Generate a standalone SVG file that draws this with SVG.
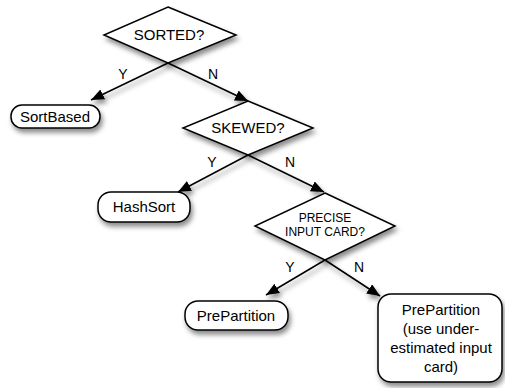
<svg xmlns="http://www.w3.org/2000/svg" width="505" height="388" viewBox="0 0 505 388">
<defs>
<filter id="sh" x="-20%" y="-20%" width="150%" height="160%">
<feDropShadow dx="2" dy="4" stdDeviation="2.5" flood-color="#000" flood-opacity="0.45"/>
</filter>
<marker id="ah" markerUnits="userSpaceOnUse" markerWidth="14" markerHeight="12" refX="13" refY="5.5" orient="auto">
<path d="M0,0 L13,5.5 L0,11 z" fill="#000"/>
</marker>
<style>
.shape{fill:#fff;stroke:#000;stroke-width:1.5;filter:url(#sh)}
.t{font-family:"Liberation Sans",Arial,sans-serif;font-size:15px;fill:#000;text-anchor:middle}
.s{font-size:12px}
.lbl{font-family:"Liberation Sans",Arial,sans-serif;font-size:14px;fill:#000;text-anchor:middle}
.c{stroke:#000;stroke-width:1.5;fill:none;marker-end:url(#ah)}
</style>
</defs>
<rect width="505" height="388" fill="#fff"/>
<g id="connectors" filter="url(#sh)">
<line class="c" x1="168" y1="63" x2="91" y2="100"/>
<line class="c" x1="168" y1="63" x2="248" y2="101"/>
<line class="c" x1="248" y1="155" x2="178" y2="192"/>
<line class="c" x1="248" y1="155" x2="324" y2="192"/>
<line class="c" x1="325" y1="260" x2="266" y2="295"/>
<line class="c" x1="325" y1="260" x2="380" y2="296"/>
</g>
<g id="sorted">
<polygon class="shape" points="168,7 236,35 168,63 104,35"/>
<text class="t" x="169" y="40">SORTED?</text>
</g>
<g id="sortbased">
<rect class="shape" x="11" y="105" width="89" height="23" rx="11"/>
<text class="t" x="55" y="122">SortBased</text>
</g>
<g id="skewed">
<polygon class="shape" points="248,101 313,128 248,155 183,128"/>
<text class="t" x="248" y="133">SKEWED?</text>
</g>
<g id="hashsort">
<rect class="shape" x="98" y="192" width="92" height="30" rx="13"/>
<text class="t" x="144" y="212">HashSort</text>
</g>
<g id="precise">
<polygon class="shape" points="325,193 395,226 325,260 255,226"/>
<text class="t s" x="325" y="222">PRECISE</text>
<text class="t s" x="325" y="236">INPUT CARD?</text>
</g>
<g id="prepartition">
<rect class="shape" x="185" y="301" width="103" height="29" rx="13"/>
<text class="t" x="236" y="321">PrePartition</text>
</g>
<g id="prepartition2">
<rect class="shape" x="378" y="294" width="124" height="88" rx="13"/>
<text class="t" x="441" y="315">PrePartition</text>
<text class="t" x="441" y="334">(use under-</text>
<text class="t" x="441" y="353">estimated input</text>
<text class="t" x="441" y="372">card)</text>
</g>
<g id="labels">
<text class="lbl" x="123" y="79">Y</text>
<text class="lbl" x="213" y="79">N</text>
<text class="lbl" x="212" y="167">Y</text>
<text class="lbl" x="290" y="167">N</text>
<text class="lbl" x="290" y="272">Y</text>
<text class="lbl" x="359" y="272">N</text>
</g>
</svg>
